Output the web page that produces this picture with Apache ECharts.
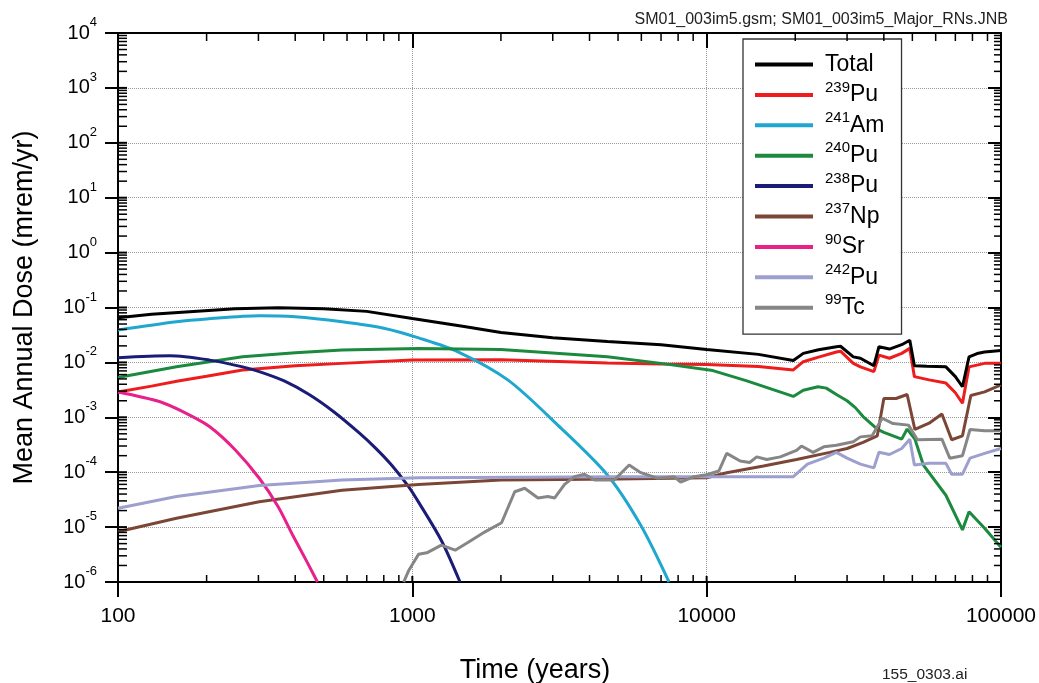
<!DOCTYPE html>
<html><head><meta charset="utf-8">
<script src="https://cdn.jsdelivr.net/npm/echarts/dist/echarts.min.js"></script>
<style>html,body{margin:0;padding:0;background:#fff}#c{width:1039px;height:683px}</style>
</head><body><div id="c"></div>
<script>
const FONT = '"Liberation Sans", Arial, Helvetica, sans-serif';

// ---- data (years, mrem/yr) ----
const seriesNames = ['Total', '239Pu', '241Am', '240Pu', '238Pu', '237Np', '90Sr', '242Pu', '99Tc'];
const seriesColors = ['#000000', '#ee1c1c', '#1fa7cf', '#1b8a3e', '#1b1b78', '#7b4636', '#e8208a', '#9d9fce', '#868686'];
const seriesSmooth = [false, false, 0.3, false, 0.3, false, 0.3, false, false];

const totalX = [100,130,170,250,350,500,700,1000,1500,2000,3000,4600,7000,10000,15000,19700,21300,24000,27600,28500,31500,33300,37000,38500,41800,46000,49000,50800,56000,65000,70000,74000,77900,83000,88000,100000];
const totalY = [0.065,0.075,0.083,0.095,0.099,0.095,0.085,0.063,0.045,0.035,0.028,0.024,0.021,0.0172,0.014,0.0108,0.0146,0.017,0.0193,0.0197,0.0126,0.0119,0.0087,0.0193,0.0175,0.021,0.0253,0.0087,0.0085,0.0083,0.0055,0.0036,0.0126,0.0145,0.0155,0.0164];

const pu239X = [100,130,160,200,265,400,577,1000,2000,4600,7000,10000,15000,19700,21300,24000,27600,28500,31500,33300,37000,38500,41800,46000,49000,50800,57000,65000,70000,74000,77900,88000,100000];
const pu239Y = [0.0029,0.0037,0.0046,0.0056,0.0073,0.0087,0.0096,0.0111,0.0112,0.0098,0.0094,0.0092,0.0084,0.0073,0.0103,0.0125,0.0155,0.016,0.0096,0.0083,0.0068,0.0136,0.0119,0.0146,0.018,0.0055,0.0048,0.0042,0.0028,0.0018,0.0083,0.0096,0.0096];

const am241X = [100,158,200,302,400,577,800,1050,1430,2110,3120,4600,5960,7450];
const am241Y = [0.039,0.055,0.062,0.071,0.068,0.055,0.042,0.028,0.0156,0.0048,0.00072,0.000089,0.000011,0.000001];

const pu240X = [100,158,265,400,577,1050,2000,4600,7000,10500,13700,19700,21300,23900,25500,27600,30000,32000,34000,38000,40000,46000,48000,51000,54500,65000,74000,77900,88000,100000];
const pu240Y = [0.0053,0.0083,0.0127,0.015,0.0168,0.018,0.0172,0.0127,0.0096,0.0071,0.0046,0.0024,0.0031,0.0036,0.0034,0.0026,0.002,0.0015,0.00103,0.00061,0.00053,0.0004,0.00061,0.0004,0.000135,0.000038,0.0000089,0.000019,0.0000095,0.0000043];

const pu238X = [100,150,205,265,302,367,446,542,657,750,850,971,1050,1255,1452];
const pu238Y = [0.0122,0.0132,0.011,0.0083,0.0068,0.0046,0.0026,0.00125,0.00053,0.000275,0.000135,0.0000546,0.0000285,0.0000057,0.000001];

const np237X = [100,158,302,577,1050,2000,5000,10000,11700,15600,20200,26200,30000,34000,38000,40000,44000,48000,51000,57000,63000,68000,74000,79000,88000,100000];
const np237Y = [0.0000082,0.0000145,0.000029,0.000047,0.00006,0.000072,0.000075,0.000079,0.000098,0.00013,0.00017,0.00023,0.00027,0.00035,0.00046,0.0022,0.0022,0.0026,0.0006,0.00078,0.00115,0.00039,0.00046,0.0025,0.0029,0.0039];

const sr90X = [100,139,170,205,250,302,350,392,440,476];
const sr90Y = [0.0029,0.00192,0.00119,0.000675,0.000257,0.0000775,0.0000235,0.0000072,0.00000225,0.000001];

const pu242X = [100,158,302,577,1050,5000,10000,19700,20500,22000,25000,27600,30000,33300,37000,38500,41800,46000,49000,50800,57000,65000,68000,74000,78500,88000,100000];
const pu242Y = [0.000022,0.000036,0.000057,0.000072,0.000079,0.000083,0.000083,0.000083,0.0001,0.00014,0.00018,0.00023,0.00018,0.00014,0.00012,0.00023,0.00021,0.00027,0.0004,0.000135,0.000145,0.000145,0.000092,0.000092,0.00018,0.00022,0.00027];

const tc99X = [935,971,1050,1120,1255,1398,1549,1766,2010,2228,2409,2673,2888,3046,3291,3556,3845,4156,4855,5454,5975,6804,7745,8160,9060,10000,11000,11700,13000,14000,14800,16000,17800,20200,21000,23000,25000,27600,31500,33300,36500,39500,43000,48500,52000,63000,67000,74000,78500,88000,100000];
const tc99Y = [0.000001,0.0000016,0.0000032,0.0000034,0.0000047,0.0000038,0.0000053,0.0000082,0.000012,0.000044,0.000051,0.000034,0.000036,0.000034,0.00006,0.000083,0.000092,0.000072,0.000072,0.000135,0.000098,0.000078,0.000083,0.000066,0.000083,0.00009,0.000105,0.00022,0.00016,0.00015,0.00019,0.00017,0.00019,0.00025,0.0003,0.00023,0.00029,0.00031,0.00036,0.00044,0.00046,0.00096,0.00077,0.00072,0.00039,0.0004,0.00018,0.0002,0.0006,0.00057,0.00057];

const seriesX = [totalX, pu239X, am241X, pu240X, pu238X, np237X, sr90X, pu242X, tc99X];
const seriesY = [totalY, pu239Y, am241Y, pu240Y, pu238Y, np237Y, sr90Y, pu242Y, tc99Y];

const xMin = 100, xMax = 100000, yMin = 1e-6, yMax = 1e4;
const headerText = 'SM01_003im5.gsm; SM01_003im5_Major_RNs.JNB';
const footerText = '155_0303.ai';
const xTitle = 'Time (years)';
const yTitle = 'Mean Annual Dose (mrem/yr)';

// ---- chart ----
const chart = echarts.init(document.getElementById('c'), null, {renderer: 'canvas'});

function zip(xs, ys) { return xs.map((x, i) => [x, ys[i]]); }

const axisLineStyle = {color: '#000', width: 2};
const gridLine = {show: true, lineStyle: {color: '#9a9a9a', type: 'dotted', width: 1}};

const series = seriesNames.map((name, i) => ({
  name: name,
  type: 'line',
  data: zip(seriesX[i], seriesY[i]),
  showSymbol: false,
  symbol: 'none',
  smooth: seriesSmooth[i],
  clip: true,
  z: i === 0 ? 10 : 5,
  color: seriesColors[i],
  lineStyle: {color: seriesColors[i], width: 3},
  animation: false
}));

function legendFmt(name) {
  const m = name.match(/^(\d+)(\D+)$/);
  if (!m) return '{m|' + name + '}';
  return '{s|' + m[1] + '}{m|' + m[2] + '}';
}

chart.setOption({
  backgroundColor: '#fff',
  animation: false,
  grid: {left: 118, right: 34, top: 33, bottom: 101, containLabel: false},
  xAxis: [
    {type: 'log', logBase: 10, min: xMin, max: xMax, interval: 1, position: 'bottom',
     axisLine: {show: true, onZero: false, lineStyle: axisLineStyle},
     axisTick: {show: true, inside: false, length: 15, lineStyle: axisLineStyle},
     axisLabel: {color: '#000', fontSize: 21, fontFamily: FONT, margin: 24, formatter: v => String(Math.round(v))},
     splitLine: gridLine},
    {type: 'log', logBase: 10, min: xMin, max: xMax, interval: 1, position: 'top',
     axisLine: {show: true, onZero: false, lineStyle: axisLineStyle},
     axisTick: {show: true, inside: true, length: 15, lineStyle: axisLineStyle},
     axisLabel: {show: false}, splitLine: {show: false}}
  ],
  yAxis: [
    {type: 'log', logBase: 10, min: yMin, max: yMax, interval: 1, position: 'left',
     name: yTitle, nameLocation: 'middle', nameGap: 80, nameRotate: 90,
     nameTextStyle: {color: '#000', fontSize: 27, fontFamily: FONT},
     axisLine: {show: true, onZero: false, lineStyle: axisLineStyle},
     axisTick: {show: true, inside: false, length: 13, lineStyle: axisLineStyle},
     axisLabel: {margin: 21, formatter: v => '{b|10}{s|' + Math.round(Math.log10(v)) + '}',
       rich: {
         b: {fontSize: 20, fontFamily: FONT, color: '#000', lineHeight: 34},
         s: {fontSize: 13, fontFamily: FONT, color: '#000', verticalAlign: 'top'}
       }},
     splitLine: gridLine},
    {type: 'log', logBase: 10, min: yMin, max: yMax, interval: 1, position: 'right',
     axisLine: {show: true, onZero: false, lineStyle: axisLineStyle},
     axisTick: {show: true, inside: true, length: 13, lineStyle: axisLineStyle},
     axisLabel: {show: false}, splitLine: {show: false}}
  ],
  legend: {
    orient: 'vertical', left: 743, top: 39,
    padding: [14, 17, 15, 12],
    itemWidth: 58, itemHeight: 4, itemGap: 3.9,
    icon: 'rect',
    backgroundColor: '#fff',
    borderColor: '#333', borderWidth: 1.3,
    selectedMode: false,
    data: seriesNames,
    formatter: legendFmt,
    textStyle: {padding: [0, 0, 0, 7],
      rich: {
        m: {fontSize: 23, fontFamily: FONT, color: '#000', lineHeight: 30},
        s: {fontSize: 15, fontFamily: FONT, color: '#000', verticalAlign: 'top'}
      }}
  },
  series: series
});

// minor ticks & inner halves of major ticks, positioned through the axes' own scales
function px(v) { return chart.convertToPixel({xAxisIndex: 0}, v); }
function py(v) { return chart.convertToPixel({yAxisIndex: 0}, v); }
const L = px(xMin), R = px(xMax), T = py(yMax), B = py(yMin);
const g = [];
function seg(x1, y1, x2, y2, w) {
  g.push({type: 'line', silent: true, z: 20, shape: {x1, y1, x2, y2}, style: {stroke: '#000', lineWidth: w || 1.5}});
}
for (let e = 2; e < 5; e++) {
  for (let k = 2; k <= 9; k++) {
    const x = px(k * Math.pow(10, e));
    seg(x, B, x, B - 7); seg(x, T, x, T + 8);
  }
}
for (let e = 3; e < 5; e++) { const x = px(Math.pow(10, e)); seg(x, B, x, B - 6, 2); }
for (let e = -6; e < 4; e++) {
  for (let k = 2; k <= 9; k++) {
    const y = py(k * Math.pow(10, e));
    seg(L, y, L + 9, y); seg(R, y, R - 7, y);
  }
}
for (let e = -5; e < 4; e++) { const y = py(Math.pow(10, e)); seg(L, y, L + 9, y, 2); }

g.push({type: 'text', z: 20, style: {text: headerText, x: 1008, y: 20, align: 'right', verticalAlign: 'middle', font: '16px ' + FONT, fill: '#222'}});
g.push({type: 'text', z: 20, style: {text: footerText, x: 882, y: 675, align: 'left', verticalAlign: 'middle', font: '15.5px ' + FONT, fill: '#222'}});
g.push({type: 'text', z: 20, style: {text: xTitle, x: 535, y: 671, align: 'center', verticalAlign: 'middle', font: '27px ' + FONT, fill: '#000'}});

chart.setOption({graphic: g});
</script>
</body></html>
